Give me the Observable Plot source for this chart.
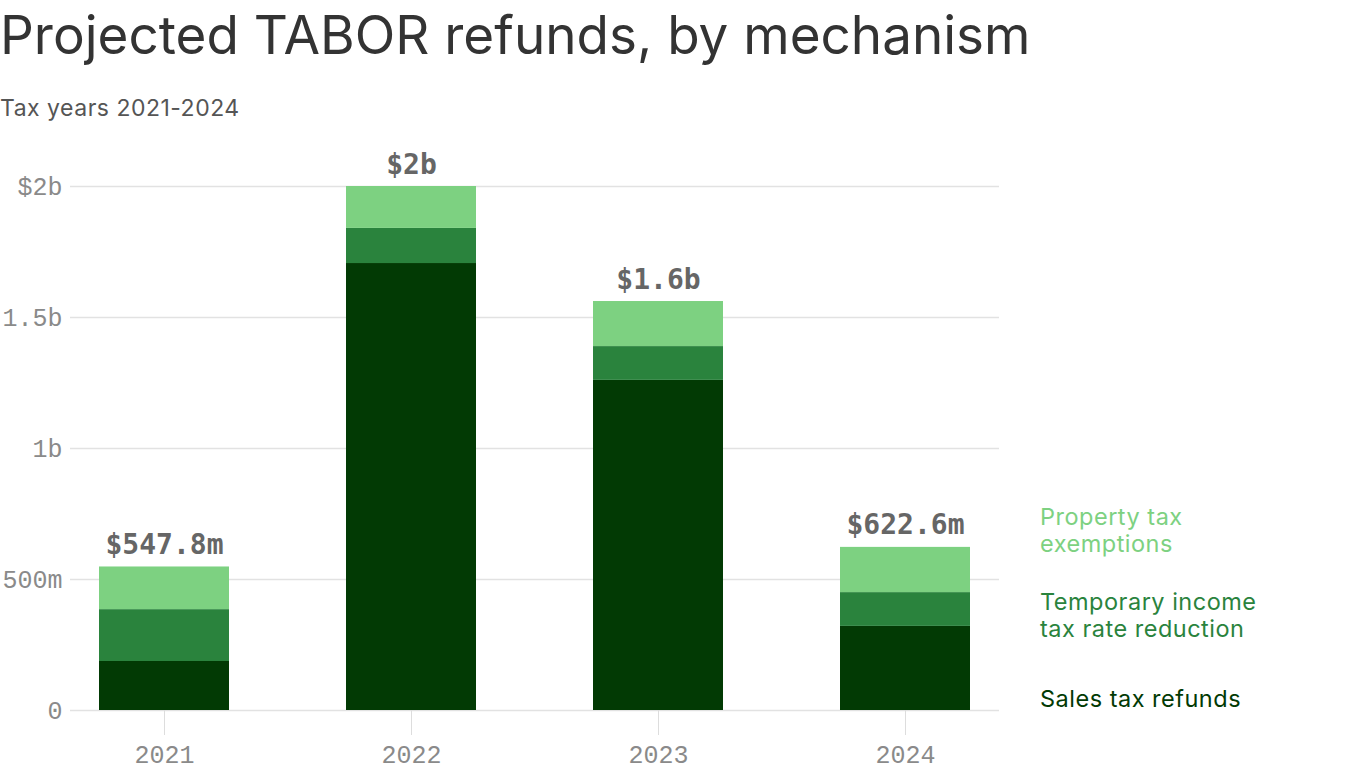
<!DOCTYPE html>
<html>
<head>
<meta charset="utf-8">
<script src="https://cdn.jsdelivr.net/npm/d3@7"></script>
<script src="https://cdn.jsdelivr.net/npm/@observablehq/plot@0.6"></script>
<style>
  html, body { margin: 0; padding: 0; background: #fff; }
  body { width: 1366px; height: 768px; position: relative; overflow: hidden; font-family: Inter, "Noto Sans", sans-serif; }
  #title { position: absolute; left: 0; top: 0; font-size: 53px; line-height: 70px; color: #333; letter-spacing: 0px; white-space: nowrap; }
  #subtitle { position: absolute; left: 0; top: 94px; font-size: 23px; line-height: 28px; color: #555; letter-spacing: 0.5px; white-space: nowrap; }
  #chart { position: absolute; left: 0; top: 130px; }
  .leg { position: absolute; left: 1040px; font-size: 23.5px; line-height: 27px; letter-spacing: 0.5px; white-space: nowrap; }
</style>
</head>
<body>
<div id="title">Projected TABOR refunds, by mechanism</div>
<div id="subtitle">Tax years 2021-2024</div>
<div id="chart"></div>
<div id="legend"></div>
<script>
const years = ["2021", "2022", "2023", "2024"];
const series = ["Sales tax refunds", "Temporary income tax rate reduction", "Property tax exemptions"];
const salesTax = [187e6, 1706e6, 1260e6, 321e6];
const incomeTax = [198e6, 134e6, 129e6, 129e6];
const propertyTax = [162.8e6, 160e6, 172e6, 172.6e6];
const totals = [547.8e6, 2000e6, 1561e6, 622.6e6];
const totalLabels = ["$547.8m", "$2b", "$1.6b", "$622.6m"];
const yTicks = [0, 0.5e9, 1e9, 1.5e9, 2e9];
const yTickLabels = ["0", "500m", "1b", "1.5b", "$2b"];
const colors = ["#023a04", "#2a833d", "#7dd181"];
const legendLabels = ["Property tax<br>exemptions", "Temporary income<br>tax rate reduction", "Sales tax refunds"];
const legendColors = ["#7dd181", "#2a833d", "#023a04"];
const legendTops = [503, 588, 685];

const rows = [];
years.forEach((y, i) => {
  rows.push({year: y, series: series[0], value: salesTax[i]});
  rows.push({year: y, series: series[1], value: incomeTax[i]});
  rows.push({year: y, series: series[2], value: propertyTax[i]});
});
const totalRows = years.map((y, i) => ({year: y, total: totals[i], label: totalLabels[i]}));

const chart = Plot.plot({
  width: 1000,
  height: 638,
  marginLeft: 70,
  marginRight: 1,
  marginTop: 56,
  marginBottom: 58,
  style: {background: "transparent", overflow: "visible"},
  x: {domain: years, paddingInner: 0.475, paddingOuter: 0.113},
  y: {domain: [0, 2e9]},
  color: {domain: series, range: colors},
  marks: [
    Plot.ruleY(yTicks, {stroke: "#e2e2e2", strokeWidth: 1.5}),
    Plot.axisY({ticks: yTicks, tickFormat: d => yTickLabels[yTicks.indexOf(d)], tickSize: 0, tickPadding: 8, fontSize: 25, fontFamily: "Liberation Mono, monospace", color: "#8a8a8a", label: null}),
    Plot.axisX({tickSize: 25, tickPadding: 10, fontSize: 25, fontFamily: "Liberation Mono, monospace", color: "#8a8a8a", stroke: "#dddddd", label: null}),
    Plot.barY(rows, {x: "year", y: "value", fill: "series", order: series}),
    Plot.text(totalRows, {x: "year", y: "total", text: "label", dy: -13, lineAnchor: "bottom", fontSize: 28, fontWeight: "bold", fontFamily: "DejaVu Sans Mono, monospace", fill: "#666"})
  ]
});
document.getElementById("chart").appendChild(chart);

const legend = document.getElementById("legend");
legendLabels.forEach((t, i) => {
  const d = document.createElement("div");
  d.className = "leg";
  d.style.top = legendTops[i] + "px";
  d.style.color = legendColors[i];
  d.innerHTML = t;
  legend.appendChild(d);
});
</script>
</body>
</html>
